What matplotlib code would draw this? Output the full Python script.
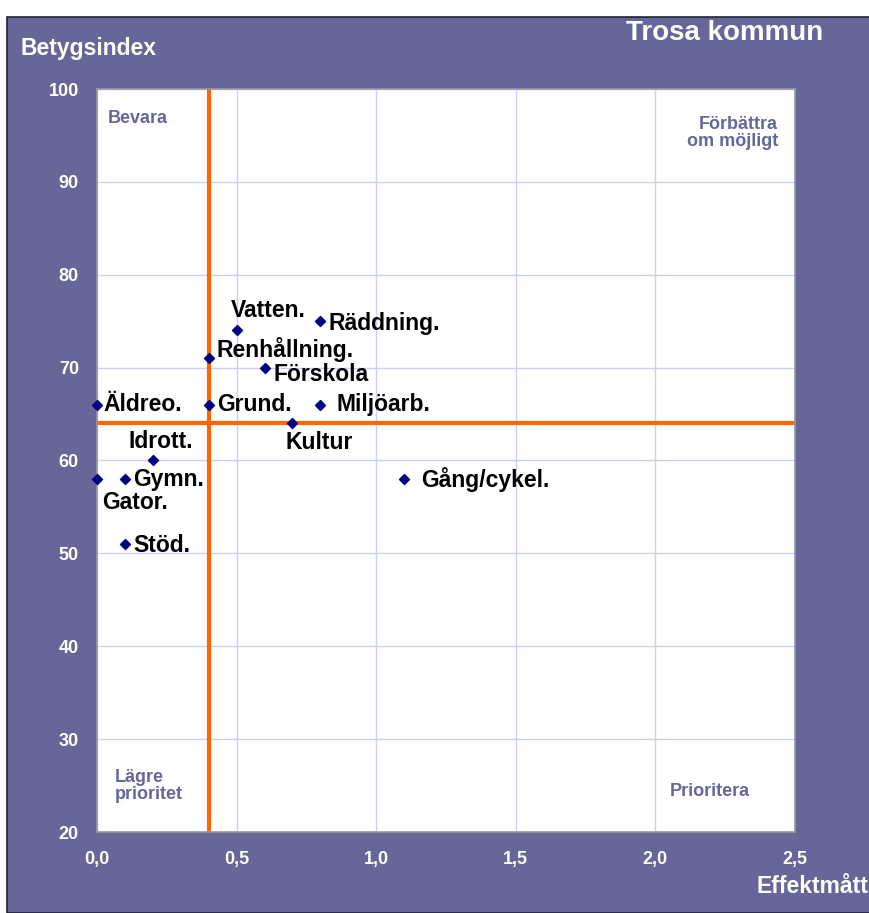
import matplotlib
matplotlib.use("Agg")
import matplotlib.pyplot as plt
from matplotlib.patches import Rectangle

plt.rcParams["font.family"] = ["Liberation Sans", "DejaVu Sans"]

# ---------------------------------------------------------------------------
# Data
# ---------------------------------------------------------------------------
names = ["Äldreo.", "Gator.", "Gymn.", "Idrott.", "Stöd.", "Renhållning.",
         "Grund.", "Vatten.", "Förskola", "Räddning.", "Miljöarb.", "Kultur",
         "Gång/cykel."]
effekt = [0.0, 0.0, 0.1, 0.2, 0.1, 0.4, 0.4, 0.5, 0.6, 0.8, 0.8, 0.7, 1.1]
betyg = [66, 58, 58, 60, 51, 71, 66, 74, 70, 75, 66, 64, 58]
# label offsets in pixels (dx, dy) from the marker, text left-aligned
offsets = {
    "Äldreo.": (6, 0),
    "Gator.": (5, -23),
    "Gymn.": (8, 0),
    "Idrott.": (-24, 19),
    "Stöd.": (8, -1),
    "Renhållning.": (8, 9),
    "Grund.": (8, 0),
    "Vatten.": (-6, 20),
    "Förskola": (9, -7),
    "Räddning.": (8, -2),
    "Miljöarb.": (16, 0),
    "Kultur": (-7, -19),
    "Gång/cykel.": (17, 0),
}

x_ticks = [0.0, 0.5, 1.0, 1.5, 2.0, 2.5]
y_ticks = [20, 30, 40, 50, 60, 70, 80, 90, 100]
split_x = 0.4
split_y = 64

BG = "#666699"
QUAD = "#66669a"

fig = plt.figure(figsize=(8.69, 9.13), dpi=100, facecolor="white")
fig.patches.append(Rectangle((7 / 869, 0), 1, 1 - 17 / 913, transform=fig.transFigure,
                             facecolor=BG, edgecolor="#222233", linewidth=1.2,
                             zorder=-10))

ax = fig.add_axes([97 / 869, 1 - 832 / 913, (795 - 97) / 869, (832 - 89) / 913])
ax.set_facecolor("white")
ax.set_xlim(0, 2.5)
ax.set_ylim(20, 100)
ax.set_xticks(x_ticks)
ax.set_yticks(y_ticks)
ax.set_xticklabels([f"{t:.1f}".replace(".", ",") for t in x_ticks])
ax.tick_params(axis="x", colors="white", labelsize=13, length=0, pad=14)
ax.tick_params(axis="y", colors="white", labelsize=13, length=0, pad=13)
for lab in ax.get_xticklabels() + ax.get_yticklabels():
    lab.set_fontweight("bold")
ax.grid(True, color="#ccccff", linewidth=1)
ax.set_axisbelow(True)
for sp in ax.spines.values():
    sp.set_edgecolor("#999999")
    sp.set_linewidth(1.2)

ax.axvline(split_x, color="#ff6600", linewidth=3, zorder=2)
ax.axhline(split_y, color="#ff6600", linewidth=3, zorder=2)

ax.scatter(effekt, betyg, marker="D", s=26, color="#000080", zorder=4, clip_on=False)
for n, x, y in zip(names, effekt, betyg):
    dx, dy = offsets[n]
    ax.annotate(n, (x, y), xytext=(dx, dy), textcoords="offset pixels",
                ha="left", va="center", fontsize=16.5, fontweight="bold",
                color="black", zorder=5)

# quadrant labels
ax.text(0.04, 96.8, "Bevara", color=QUAD, fontsize=13, fontweight="bold",
        ha="left", va="center")
ax.text(2.44, 95.3, "Förbättra\nom möjligt", color=QUAD, fontsize=13,
        fontweight="bold", ha="right", va="center", linespacing=1.0)
ax.text(0.065, 25.0, "Lägre\nprioritet", color=QUAD, fontsize=13,
        fontweight="bold", ha="left", va="center", linespacing=1.0)
ax.text(2.05, 24.4, "Prioritera", color=QUAD, fontsize=13, fontweight="bold",
        ha="left", va="center")

fig.text(20 / 869, 1 - 48 / 913, "Betygsindex", color="white", fontsize=16.5,
         fontweight="bold", ha="left", va="center")
fig.text(823 / 869, 1 - 33 / 913, "Trosa kommun", color="white", fontsize=20,
         fontweight="bold", ha="right", va="center")
fig.text(868 / 869, 1 - 886 / 913, "Effektmått", color="white", fontsize=16.5,
         fontweight="bold", ha="right", va="center")

fig.savefig("out.png", dpi=100, facecolor="white")
